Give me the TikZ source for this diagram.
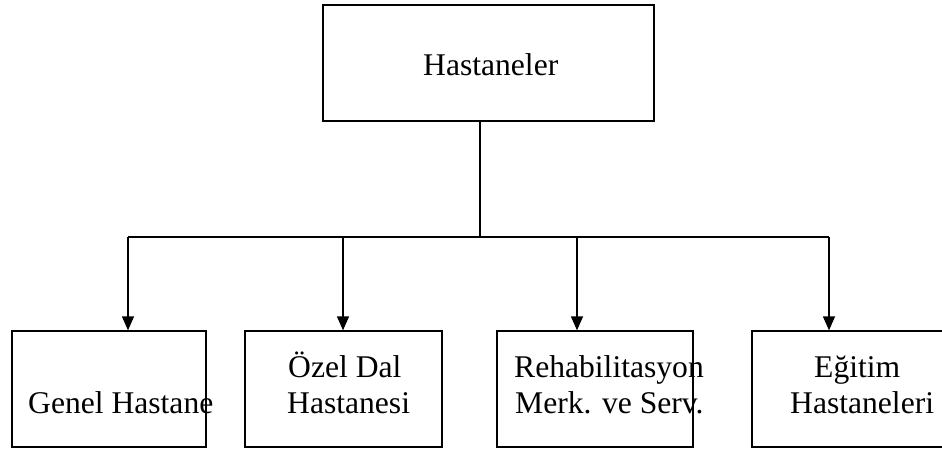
\documentclass[tikz,border=0pt]{standalone}
\usepackage{fontspec}
\setmainfont{Liberation Serif}
\usetikzlibrary{arrows.meta}
\begin{document}
\begin{tikzpicture}[x=1pt,y=-1pt,
  topbox/.style={draw, line width=2pt, inner sep=0, minimum height=116pt},
  box/.style={draw, line width=1.3pt, inner sep=0, minimum height=116pt},
  lbl/.style={anchor=base west, inner sep=0, font=\fontsize{31.6}{36}\selectfont},
  link/.style={line width=1.3pt},
  arr/.style={link, -{Triangle[length=14pt,width=12pt]}}]
\useasboundingbox (0,0) rectangle (942,450);
% boxes
\node[topbox, minimum width=331pt] (top) at (488.5,63) {};
\node[box, minimum width=194pt] (g) at (109,389) {};
\node[box, minimum width=197pt] (o) at (343.5,389) {};
\node[box, minimum width=196pt] (r) at (595,389) {};
\node[box, minimum width=208pt] (e) at (856,389) {};
% texts
\node[lbl] (tTop) at (423,75) {Hastaneler};
\node[lbl] (tG) at (28,413) {Genel Hastane};
\node[lbl] (tO1) at (288,377) {Özel Dal};
\node[lbl] (tO2) at (287,413) {Hastanesi};
\node[lbl] (tR1) at (514,377) {Rehabilitasyon};
\node[lbl] (tR2) at (515,413) {Merk. ve Serv.};
\node[lbl] (tE1) at (814,377) {Eğitim};
\node[lbl] (tE2) at (790,413) {Hastaneleri};
% connectors
\coordinate (j) at (480,237);
\coordinate (b1) at (128,237);
\coordinate (b2) at (343,237);
\coordinate (b3) at (577,237);
\coordinate (b4) at (829,237);
\draw[link] (top.south -| j) -- (j);
\draw[link] (b1) -- (b4);
\draw[arr] (b1) -- (b1 |- g.north);
\draw[arr] (b2) -- (b2 |- o.north);
\draw[arr] (b3) -- (b3 |- r.north);
\draw[arr] (b4) -- (b4 |- e.north);
\end{tikzpicture}
\end{document}
